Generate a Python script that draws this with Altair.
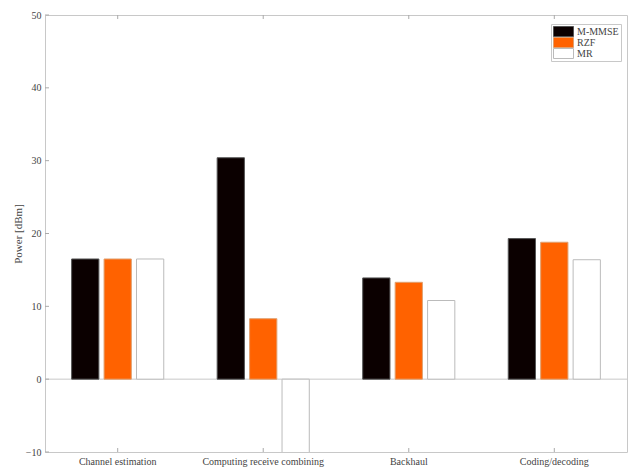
import altair as alt
import pandas as pd

# Power per processing block, in dBm, for three combining schemes
categories = ["Channel estimation", "Computing receive combining", "Backhaul", "Coding/decoding"]
series = ["M-MMSE", "RZF", "MR"]
m_mmse = [16.5, 30.4, 13.9, 19.3]
rzf = [16.5, 8.3, 13.3, 18.8]
mr = [16.5, -15.0, 10.8, 16.4]
fill_colors = ["#0b0000", "#ff6200", "#ffffff"]
edge_colors = ["#555555", "#e0a070", "#bbbbbb"]
y_ticks = [-10, 0, 10, 20, 30, 40, 50]

rows = []
for name, vals in zip(series, [m_mmse, rzf, mr]):
    for cat, v in zip(categories, vals):
        rows.append({"category": cat, "series": name, "power": v})
bars_df = pd.DataFrame(rows)
ticks_df = pd.DataFrame({"value": y_ticks})
cats_df = pd.DataFrame({"category": categories})

W, H = 582, 437
FONT = "Liberation Serif"
GRID = "#c8c8c8"

x_scale = alt.Scale(domain=categories, paddingInner=0.367, paddingOuter=0.183)
y_scale = alt.Scale(domain=[-10, 50])

bars = alt.Chart(bars_df).mark_bar(strokeWidth=1, clip=True).encode(
    x=alt.X("category:N", sort=categories, scale=x_scale,
            axis=alt.Axis(title=None, labelAngle=0, ticks=False, domain=False,
                          labelFont=FONT, labelFontSize=10, labelColor="#444",
                          labelPadding=4)),
    xOffset=alt.XOffset("series:N", sort=series,
                        scale=alt.Scale(domain=series, paddingInner=0.16)),
    y=alt.Y("power:Q", scale=y_scale,
            axis=alt.Axis(title="Power [dBm]", values=y_ticks, grid=False, ticks=False,
                          domain=False, labelFont=FONT, labelFontSize=10,
                          labelColor="#444", labelPadding=4,
                          titleFont=FONT, titleFontSize=11, titleFontWeight="normal",
                          titleColor="#444", titleAngle=-90, titleX=-27,
                          titleY=H / 2, titleAlign="center", titleBaseline="middle")),
    y2=alt.datum(0),
    fill=alt.Fill("series:N", sort=series,
                  scale=alt.Scale(domain=series, range=fill_colors),
                  legend=alt.Legend(title=None, orient="none", legendX=506, legendY=9,
                                    direction="vertical", fillColor="white",
                                    strokeColor=GRID, padding=2, rowPadding=0,
                                    clipHeight=11,
                                    symbolType="M-1,-1H3V1H-1Z", symbolSize=100,
                                    symbolStrokeColor="#bbbbbb", symbolStrokeWidth=1,
                                    symbolOpacity=1, labelOffset=13,
                                    labelFont=FONT, labelFontSize=10,
                                    labelColor="#444")),
    stroke=alt.Stroke("series:N", sort=series,
                      scale=alt.Scale(domain=series, range=edge_colors), legend=None),
)

zero = alt.Chart(pd.DataFrame({"value": [0]})).mark_rule(color=GRID, strokeWidth=1).encode(
    y=alt.Y("value:Q", scale=y_scale)
)

# inward tick marks on the left edge
y_tick_marks = alt.Chart(ticks_df).mark_rule(color="#aaaaaa", strokeWidth=1).encode(
    y=alt.Y("value:Q", scale=y_scale),
    x=alt.value(0),
    x2=alt.value(4),
)

# inward tick marks at the bottom and top edges, one per group
x_ticks_bottom = alt.Chart(cats_df).mark_rule(color="#aaaaaa", strokeWidth=1).encode(
    x=alt.X("category:N", sort=categories, scale=x_scale, bandPosition=0.5),
    y=alt.value(H - 4),
    y2=alt.value(H),
)
x_ticks_top = alt.Chart(cats_df).mark_rule(color="#aaaaaa", strokeWidth=1).encode(
    x=alt.X("category:N", sort=categories, scale=x_scale, bandPosition=0.5),
    y=alt.value(0),
    y2=alt.value(4),
)

chart = alt.layer(zero, bars, y_tick_marks, x_ticks_bottom, x_ticks_top).properties(
    width=W,
    height=H,
    autosize=alt.AutoSizeParams(type="none"),
    padding={"left": 45, "top": 15, "right": 2, "bottom": 16},
    background="white",
).configure_view(
    stroke=GRID, strokeWidth=1
)

chart.save("out.html", embed_options={"renderer": "svg", "actions": False})
